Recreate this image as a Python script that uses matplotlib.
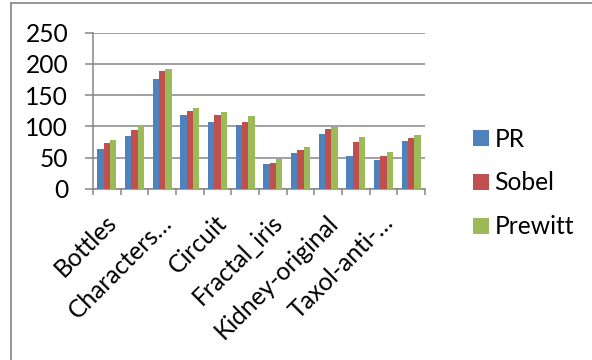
import matplotlib
matplotlib.use("Agg")
import matplotlib.pyplot as plt
import matplotlib.transforms as mtransforms
from matplotlib.lines import Line2D
import numpy as np

categories = ["Bottles", "", "Characters…", "", "Circuit", "", "Fractal_iris", "",
              "Kidney-original", "", "Taxol-anti-…", ""]
series_names = ["PR", "Sobel", "Prewitt"]
pr = [63.5, 84.8, 176.6, 117.9, 106.2, 101.9, 39.5, 56.6, 87.5, 52.3, 45.4, 76.3]
sobel = [72.6, 94.4, 188.3, 124.3, 117.4, 106.7, 41.1, 61.9, 95.0, 74.2, 52.8, 80.6]
prewitt = [77.4, 99.8, 192.0, 129.6, 122.2, 116.3, 47.5, 66.2, 98.7, 82.7, 58.7, 86.4]
yticks = [0, 50, 100, 150, 200, 250]
colors = ["#4F81BD", "#C0504D", "#9BBB59"]

plt.rcParams['font.family'] = ['Lato', 'DejaVu Sans']
FS = 17.7
W, H = 592, 360
fig = plt.figure(figsize=(W / 100, H / 100), dpi=100)
ax = fig.add_axes([93 / W, 1 - 188.7 / H, (425 - 93) / W, (188.7 - 32.7) / H])

gray = "#868686"
x = np.arange(1, len(categories) + 1)
bw = 0.229
for i, (vals, name) in enumerate(zip([pr, sobel, prewitt], series_names)):
    ax.bar(x + (i - 1) * bw, vals, width=bw, color=colors[i], label=name, zorder=3)

ax.set_xlim(0.5, len(categories) + 0.5)
ax.set_ylim(0, 250)
ax.set_yticks(yticks)
ax.set_yticklabels([str(v) for v in yticks], fontsize=FS)
ax.yaxis.grid(True, color=gray, linewidth=1.1, zorder=0)
ax.set_axisbelow(True)
ax.tick_params(axis='y', direction='out', length=5.8, width=1.1, color=gray, pad=12)

# category boundary ticks
ax.set_xticks(np.arange(0.5, len(categories) + 1.0, 1.0))
ax.set_xticklabels([])
ax.tick_params(axis='x', which='major', direction='out', length=4.3, width=1.1, color=gray)
ax.set_xticks(x, minor=True)
ax.set_xticklabels(categories, minor=True, fontsize=FS, rotation=45,
                   ha='right', va='center', rotation_mode='anchor')
ax.tick_params(axis='x', which='minor', length=0, pad=21.6)
off = mtransforms.ScaledTranslation(0.06, 0, fig.dpi_scale_trans)
for lab in ax.get_xticklabels(minor=True):
    lab.set_transform(lab.get_transform() + off)

for s in ["top", "right"]:
    ax.spines[s].set_visible(False)
for s in ["left", "bottom"]:
    ax.spines[s].set_color(gray)
    ax.spines[s].set_linewidth(1.1)

leg = ax.legend(loc='center left', bbox_to_anchor=(473 / W, 1 - 183 / H),
                bbox_transform=fig.transFigure, frameon=False, fontsize=FS,
                handlelength=0.65, handleheight=0.65, handletextpad=0.22,
                labelspacing=0.85, borderpad=0, borderaxespad=0)

# chart border (left and top only visible)
fig.add_artist(Line2D([11 / W, 11 / W], [0, 1 - 3 / H], transform=fig.transFigure,
                      color="#8c8c8c", linewidth=1.3))
fig.add_artist(Line2D([11 / W, 1], [1 - 3 / H, 1 - 3 / H], transform=fig.transFigure,
                      color="#8c8c8c", linewidth=1.3))

fig.savefig("out.png", dpi=100)
